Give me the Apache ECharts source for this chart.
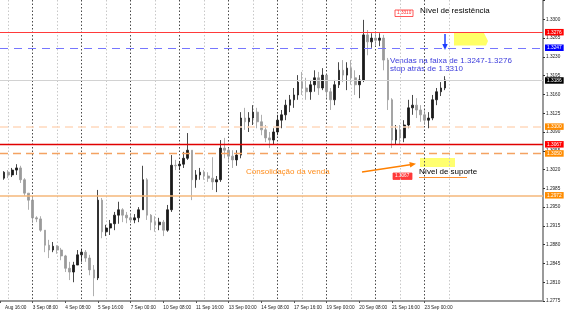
<!DOCTYPE html>
<html><head><meta charset="utf-8">
<script src="https://cdn.jsdelivr.net/npm/echarts@6/dist/echarts.min.js"></script>
<style>html,body{margin:0;padding:0;background:#fff}#c{width:577px;height:317px}</style>
</head><body><div id="c"></div>
<script>
// 4-hour bars (index 0 empty)
const opens = [null,
1.3004,1.3015,1.3010,1.3019,1.3023,1.3001,1.2976,1.2963,1.2930,1.2928,
1.2907,1.2879,1.2870,1.2877,1.2870,1.2859,1.2836,1.2829,1.2842,1.2861,
1.2866,1.2855,1.2833,1.2818,1.2963,1.2904,1.2911,1.2919,1.2935,1.2945,
1.2935,1.2930,1.2926,1.2930,1.2945,1.3001,1.2935,1.2922,1.2917,1.2922,
1.2907,1.2945,1.3028,1.3027,1.3030,1.3041,1.3056,1.3001,1.3010,1.3015,
1.3008,1.3004,1.2997,1.3001,1.3060,1.3056,1.3045,1.3038,1.3047,1.3116,
1.3109,1.3116,1.3127,1.3109,1.3094,1.3079,1.3075,1.3090,1.3112,1.3122,
1.3140,1.3150,1.3159,1.3183,1.3172,1.3165,1.3178,1.3191,1.3172,1.3196,
1.3165,1.3150,1.3178,1.3205,1.3196,1.3209,1.3191,1.3178,1.3187,1.3271,
1.3258,1.3265,1.3261,1.3265,1.3224,1.3150,1.3075,1.3094,1.3079,1.3103,
1.3135,1.3140,1.3131,1.3122,1.3112,1.3116,1.3150,1.3165,1.3172];
const closes = [null,
1.3015,1.3010,1.3019,1.3023,1.3001,1.2976,1.2963,1.2930,1.2928,1.2907,
1.2879,1.2870,1.2877,1.2870,1.2859,1.2836,1.2829,1.2842,1.2861,1.2866,
1.2855,1.2833,1.2818,1.2963,1.2904,1.2911,1.2919,1.2935,1.2945,1.2935,
1.2930,1.2926,1.2930,1.2945,1.3001,1.2935,1.2922,1.2917,1.2922,1.2907,
1.2945,1.3028,1.3027,1.3030,1.3041,1.3056,1.3001,1.3010,1.3015,1.3008,
1.3004,1.2997,1.3001,1.3060,1.3056,1.3045,1.3038,1.3047,1.3116,1.3109,
1.3116,1.3127,1.3109,1.3094,1.3079,1.3075,1.3090,1.3112,1.3122,1.3140,
1.3150,1.3159,1.3183,1.3172,1.3165,1.3178,1.3191,1.3172,1.3196,1.3165,
1.3150,1.3178,1.3205,1.3196,1.3209,1.3191,1.3178,1.3187,1.3271,1.3258,
1.3265,1.3261,1.3265,1.3224,1.3150,1.3075,1.3094,1.3079,1.3103,1.3135,
1.3140,1.3131,1.3122,1.3112,1.3116,1.3150,1.3165,1.3172,1.3187];
const lows = [null,
1.3001,1.3004,1.3006,1.3010,1.2995,1.2971,1.2945,1.2920,1.2922,1.2904,
1.2866,1.2855,1.2866,1.2863,1.2851,1.2829,1.2814,1.2810,1.2842,1.2848,
1.2848,1.2823,1.2784,1.2814,1.2892,1.2896,1.2898,1.2907,1.2919,1.2922,
1.2920,1.2920,1.2920,1.2922,1.2945,1.2926,1.2907,1.2904,1.2907,1.2896,
1.2904,1.2941,1.3019,1.3019,1.3023,1.3038,1.2963,1.2986,1.3001,1.3001,
1.2997,1.2982,1.2978,1.2997,1.3041,1.3034,1.3023,1.3027,1.3041,1.3094,
1.3090,1.3103,1.3097,1.3084,1.3071,1.3060,1.3066,1.3084,1.3097,1.3112,
1.3127,1.3135,1.3150,1.3159,1.3150,1.3150,1.3165,1.3159,1.3168,1.3153,
1.3131,1.3140,1.3172,1.3183,1.3168,1.3178,1.3159,1.3153,1.3183,1.3233,
1.3247,1.3252,1.3250,1.3205,1.3131,1.3060,1.3066,1.3066,1.3071,1.3097,
1.3122,1.3116,1.3109,1.3103,1.3097,1.3112,1.3140,1.3157,1.3168];
const highs = [null,
1.3017,1.3019,1.3023,1.3030,1.3027,1.3004,1.2976,1.2967,1.2933,1.2933,
1.2907,1.2889,1.2885,1.2879,1.2874,1.2861,1.2848,1.2848,1.2870,1.2872,
1.2870,1.2861,1.2842,1.2982,1.2967,1.2917,1.2926,1.2941,1.2960,1.2948,
1.2941,1.2937,1.2937,1.2950,1.3027,1.3004,1.2937,1.2933,1.2930,1.2926,
1.2954,1.3047,1.3038,1.3036,1.3053,1.3088,1.3056,1.3019,1.3023,1.3019,
1.3015,1.3043,1.3008,1.3075,1.3079,1.3060,1.3056,1.3056,1.3127,1.3135,
1.3127,1.3140,1.3135,1.3122,1.3103,1.3090,1.3097,1.3122,1.3131,1.3150,
1.3159,1.3172,1.3196,1.3202,1.3191,1.3187,1.3205,1.3202,1.3209,1.3196,
1.3172,1.3187,1.3220,1.3224,1.3220,1.3224,1.3205,1.3196,1.3299,1.3280,
1.3274,1.3276,1.3274,1.3271,1.3228,1.3153,1.3103,1.3103,1.3112,1.3150,
1.3159,1.3153,1.3140,1.3131,1.3127,1.3159,1.3172,1.3183,1.3194];

const categoryCount = 134;
const tickIndex = [0,8,16,24,32,40,48,56,64,72,80,88,96,104];
const tickText = ['Aug 16:00','3 Sep 08:00','4 Sep 08:00','5 Sep 16:00','7 Sep 00:00','10 Sep 08:00','11 Sep 16:00','13 Sep 00:00','14 Sep 08:00','17 Sep 16:00','19 Sep 00:00','20 Sep 08:00','21 Sep 16:00','23 Sep 00:00'];

const levelValues = [1.3276, 1.3247, 1.3186, 1.3100, 1.3067, 1.3050, 1.2972];
const levelText   = ['1.3276','1.3247','1.3186','1.3100','1.3067','1.3050','1.2972'];

const yMin = 1.2775, yMax = 1.3336, yStep = 0.0035, yLastLabel = 1.3300;

const categories = [];
for (let i = 0; i < categoryCount; i++) categories.push('b' + i);
const ohlc = opens.map((o, i) => o == null ? ['-','-','-','-'] : [o, closes[i], lows[i], highs[i]]);

const levelStyles = [
  {line:{color:'#ff3a3a', width:1.2, type:'solid'}, bg:'#ff0000'},
  {line:{color:'#7676ff', width:1, type:[8,6]}, bg:'#0000ff'},
  {line:{color:'#d2d2d2', width:1, type:'solid'}, bg:'#000000'},
  {line:{color:'#ffd9bd', width:1.5, type:[8,5]}, bg:'#ff8c00'},
  {line:{color:'#e00000', width:1.3, type:'solid'}, bg:'#ff0000'},
  {line:{color:'#f4a262', width:1.3, type:[8,5]}, bg:'#ff8c00'},
  {line:{color:'#f5b77a', width:1.5, type:'solid'}, bg:'#ff8c00'}
];
const markData = levelValues.map((v, i) => ({
  yAxis: v,
  lineStyle: levelStyles[i].line,
  label: {show:true, position:'end', distance:2, formatter: levelText[i],
    backgroundColor: levelStyles[i].bg, color:'#fff', fontSize:4.8,
    fontFamily:'Arial, Liberation Sans, sans-serif', padding:[1,2,0.5,2]}
}));

const chart = echarts.init(document.getElementById('c'), null, {renderer:'canvas'});
const F = 'Arial, "Liberation Sans", sans-serif';
chart.setOption({
  animation:false,
  backgroundColor:'#ffffff',
  grid:{left:0, right:34, top:0, bottom:16},
  xAxis:{type:'category', data:categories, boundaryGap:false,
    axisLine:{show:true, lineStyle:{color:'#9a9a9a', width:2}},
    axisTick:{show:true, length:2, interval:(idx)=>tickIndex.indexOf(idx)>=0, lineStyle:{color:'#555'}},
    axisLabel:{interval:0, margin:4, fontSize:4.7, color:'#222', fontFamily:F, align:'left',
      rich:{first:{fontSize:4.7, color:'#222', fontFamily:F, padding:[0,0,0,5]}},
      formatter:(v, idx)=>{ const k = tickIndex.indexOf(idx); if (k<0) return ''; return k===0 ? '{first|'+tickText[k]+'}' : tickText[k]; }},
    splitLine:{show:true, interval:(idx)=> idx>=2 && idx<=110 && (idx-2)%6===0,
      lineStyle:{color:['#c8c8c8','#4a4a4a'], type:[1.5,2], width:1}}
  },
  yAxis:{type:'value', position:'right', min:yMin, max:yMax, interval:yStep,
    axisLine:{show:true, lineStyle:{color:'#9a9a9a', width:2}},
    axisTick:{show:true, length:2, lineStyle:{color:'#333'}},
    axisLabel:{fontSize:4.7, color:'#222', margin:3, fontFamily:F, showMaxLabel:false,
      formatter:(v)=>{ const k=(v-yMin)/yStep; return (Math.abs(k-Math.round(k))<0.01 && v<=yLastLabel+1e-6) ? v.toFixed(4) : ''; }},
    splitLine:{show:false}
  },
  series:[{
    type:'candlestick', data:ohlc, barWidth:2.2,
    itemStyle:{color:'#1a1a1a', color0:'#9a9a9a', borderColor:'#1a1a1a', borderColor0:'#9a9a9a', borderWidth:0.8},
    markLine:{silent:true, precision:4, symbol:['none','none'], animation:false, data:markData}
  }],
  graphic:[
    {type:'text', left:420, top:7, style:{text:'Nível de resistência', font:'8px '+F, fill:'#000'}},
    {type:'rect', shape:{x:395, y:10, width:18, height:6.5}, style:{fill:'#fff', stroke:'#ff3030', lineWidth:0.8}},
    {type:'text', left:397, top:10.5, style:{text:'1.3310', font:'4.7px '+F, fill:'#ff3030'}},
    {type:'polygon', shape:{points:[[454,33],[484,33],[488,41],[486,45.5],[454,45.5]]}, style:{fill:'#ffff66'}},
    {type:'line', shape:{x1:445, y1:34, x2:445, y2:45}, style:{stroke:'#1f3fff', lineWidth:1.5}},
    {type:'polygon', shape:{points:[[442.3,44],[447.7,44],[445,50]]}, style:{fill:'#1f3fff'}},
    {type:'text', left:390, top:56.5, style:{text:'Vendas na faixa de 1.3247-1.3276', font:'8px '+F, fill:'#3d3ddc'}},
    {type:'text', left:390, top:65, style:{text:'stop atrás de 1.3310', font:'8px '+F, fill:'#3d3ddc'}},
    {type:'text', left:246, top:167.5, style:{text:'Consolidação da venda', font:'8px '+F, fill:'#ff8c1a'}},
    {type:'line', shape:{x1:362, y1:172, x2:410, y2:164.8}, style:{stroke:'#ff8000', lineWidth:1.5}},
    {type:'polygon', shape:{points:[[416,163.8],[409.3,161.9],[410.3,167.6]]}, style:{fill:'#ff8000'}},
    {type:'rect', shape:{x:420, y:158, width:35, height:9}, style:{fill:'#ffff70'}},
    {type:'text', left:419, top:168, style:{text:'Nível de suporte', font:'8px '+F, fill:'#000'}},
    {type:'line', shape:{x1:419, y1:177.5, x2:467, y2:177.5}, style:{stroke:'#ff9030', lineWidth:1}},
    {type:'rect', shape:{x:393, y:173, width:19, height:6.5}, style:{fill:'#ff3a3a', stroke:'#ff3a3a', lineWidth:0.8}},
    {type:'text', left:395, top:173.5, style:{text:'1.3067', font:'4.7px '+F, fill:'#fff'}}
  ]
});
</script></body></html>
